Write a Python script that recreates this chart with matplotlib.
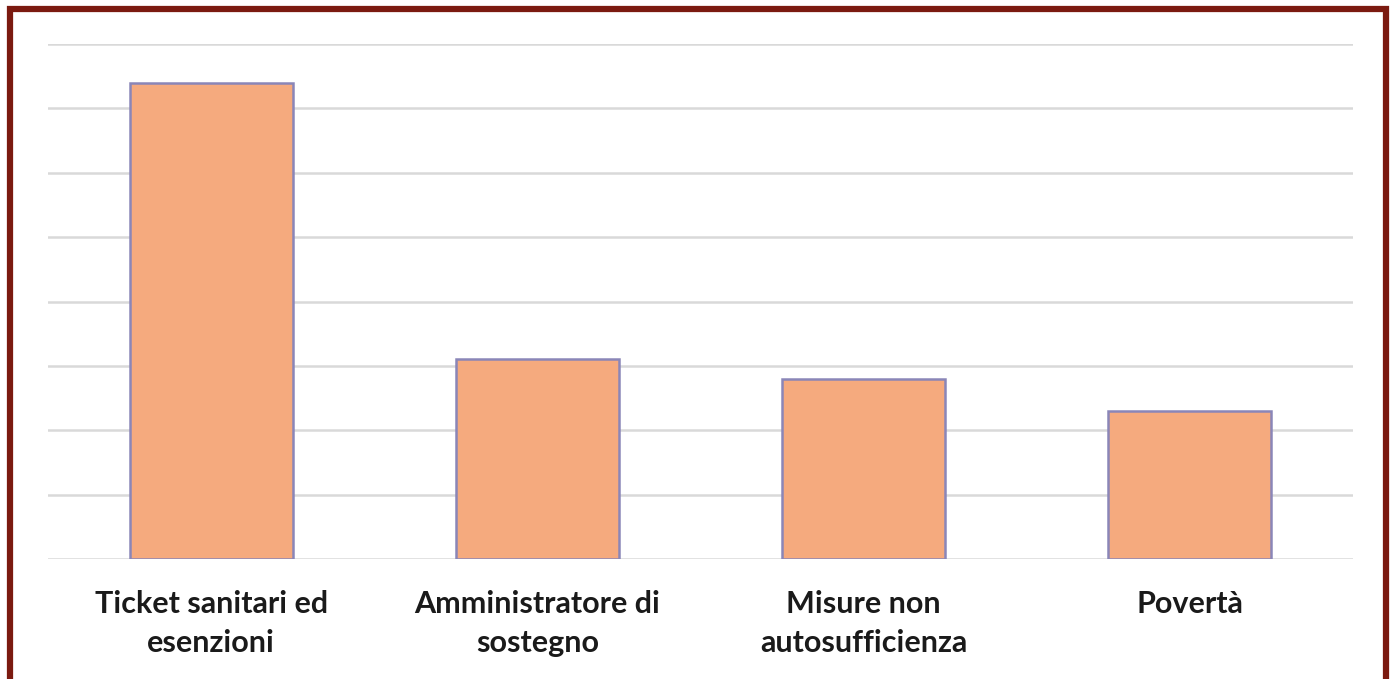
import matplotlib
matplotlib.use("Agg")
import matplotlib.pyplot as plt
import matplotlib.patches as patches

# Chart data (axis has no tick labels)
categories = ["Ticket sanitari ed\nesenzioni", "Amministratore di\nsostegno",
              "Misure non\nautosufficienza", "Povertà"]
values = [7.4, 3.1, 2.8, 2.3]
grid_ticks = [0, 1, 2, 3, 4, 5, 6, 7, 8]

W, H = 1394, 679
fig = plt.figure(figsize=(W / 100, H / 100), dpi=100)
fig.patch.set_facecolor("white")
ax = fig.add_axes([48 / W, 1 - 559 / H, (1353 - 48) / W, (559 - 44) / H])

ax.bar(range(len(categories)), values, width=0.5, color="#F5AA7E",
       edgecolor="#8A86B8", linewidth=1.8, zorder=3)

ax.set_xlim(-0.5, len(categories) - 0.5)
ax.set_ylim(0, 8)
ax.set_yticks(grid_ticks)
ax.yaxis.grid(True, color="#d9d9d9", linewidth=1.8, zorder=0)
ax.tick_params(axis="y", length=0, labelleft=False)
ax.tick_params(axis="x", length=0, pad=22)
ax.set_xticks(range(len(categories)))
ax.set_xticklabels(categories, fontsize=22, fontweight="bold",
                   family=["Lato", "DejaVu Sans"], color="#1a1a1a",
                   linespacing=1.5, va="top")
for s in ax.spines.values():
    s.set_visible(False)

# dark red frame around the whole picture (open at the bottom edge)
frame = patches.Rectangle((9.5 / W, -0.05), (1386 - 9.5) / W, 1.05 - 9 / H,
                          transform=fig.transFigure, fill=False,
                          edgecolor="#7B1A10", linewidth=4.5, zorder=10)
fig.patches.append(frame)

fig.savefig("out.png", dpi=100)
